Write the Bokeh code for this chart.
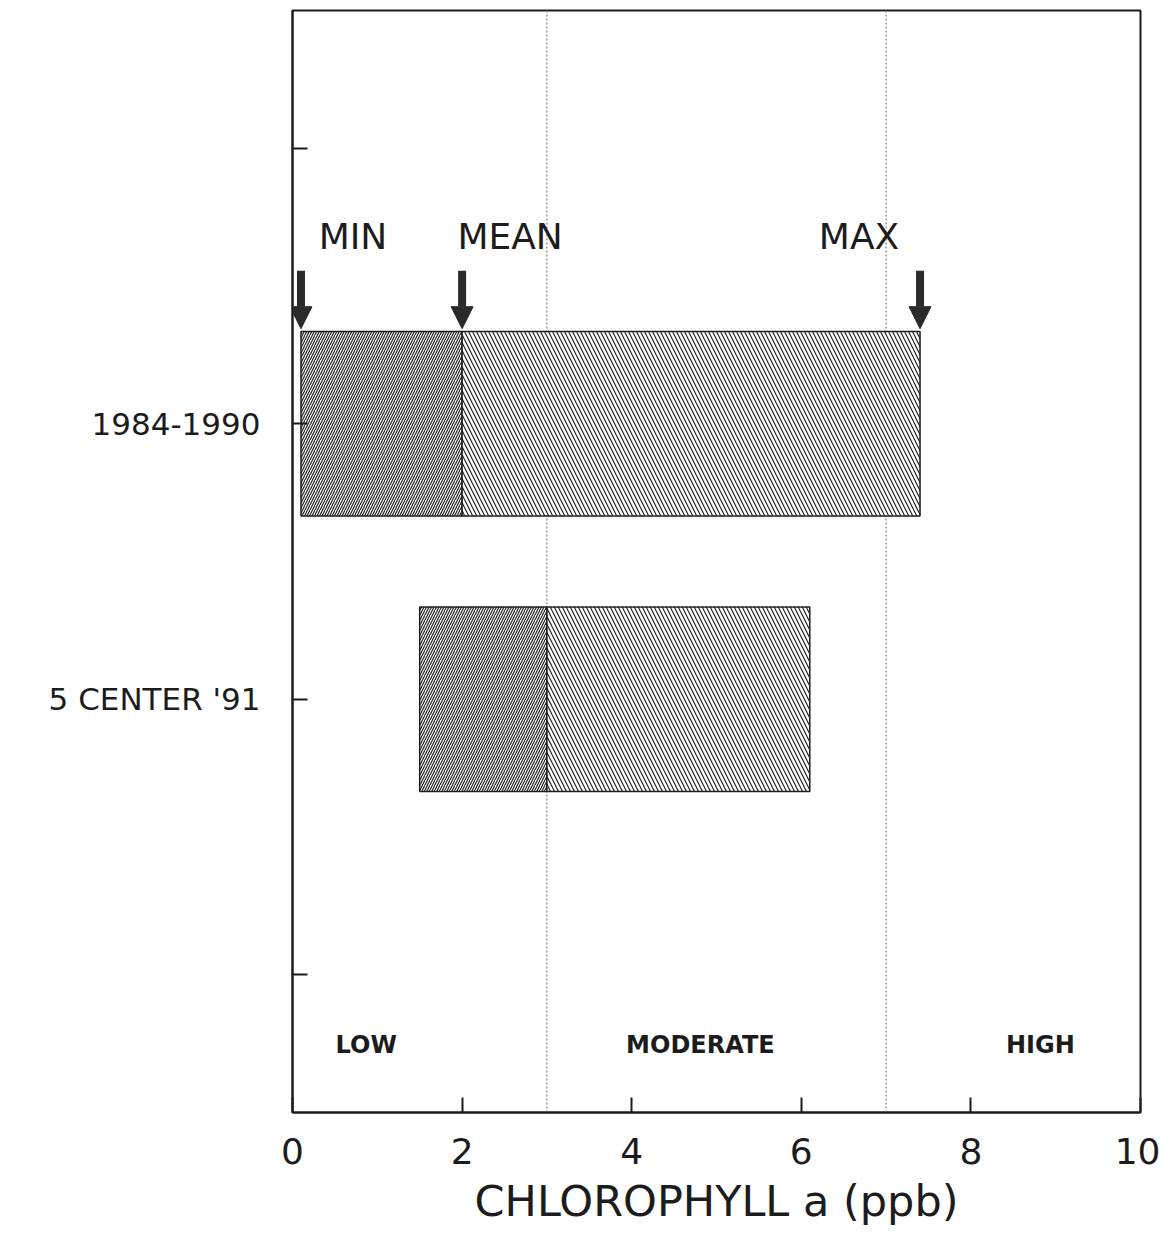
from bokeh.plotting import figure
from bokeh.models import Range1d, FixedTicker, Span, Arrow, NormalHead, ColumnDataSource
from bokeh.core.properties import value
from bokeh.embed import file_html
from bokeh.resources import INLINE

# ---- data ----
periods = ["1984-1990", "5 CENTER '91"]
period_y = [2.5, 1.5]
chl_min = [0.1, 1.5]
chl_mean = [2.0, 3.0]
chl_max = [7.4, 6.1]

x_ticks = [0, 2, 4, 6, 8, 10]
y_ticks = [0.5, 1.5, 2.5, 3.5]
y_tick_labels = ["", "5 CENTER '91", "1984-1990", ""]

zone_bounds = [3, 7]
zone_names = ["LOW", "MODERATE", "HIGH"]
zone_label_x = [0.87, 4.81, 8.82]

marker_names = ["MIN", "MEAN", "MAX"]

FONT = "DejaVu Sans"
INK = "#1c1c1c"

p = figure(width=1160, height=1240, output_backend="svg", toolbar_location=None,
           x_range=Range1d(0, 10), y_range=Range1d(0, 4),
           min_border_left=292, min_border_right=20, min_border_top=10, min_border_bottom=128)
p.grid.visible = False
p.outline_line_color = INK
p.outline_line_width = 2
p.background_fill_color = "white"
p.border_fill_color = "white"

# x axis
xa = p.xaxis[0]
xa.ticker = FixedTicker(ticks=x_ticks)
xa.major_tick_in = 15
xa.major_tick_out = 0
xa.minor_tick_in = 0
xa.minor_tick_out = 0
xa.axis_line_width = 2
xa.axis_line_color = INK
xa.major_tick_line_width = 2
xa.major_tick_line_color = INK
xa.major_label_text_font = FONT
xa.major_label_text_font_size = "36px"
xa.major_label_text_color = INK
xa.major_label_standoff = 25
xa.axis_label = "CHLOROPHYLL a (ppb)"
xa.axis_label_text_font = FONT
xa.axis_label_text_font_size = "43px"
xa.axis_label_text_font_style = "normal"
xa.axis_label_text_color = INK
xa.axis_label_standoff = 9

# y axis
ya = p.yaxis[0]
ya.ticker = FixedTicker(ticks=y_ticks)
ya.major_label_overrides = {t: l for t, l in zip(y_ticks, y_tick_labels)}
ya.major_tick_in = 15
ya.major_tick_out = 0
ya.minor_tick_in = 0
ya.minor_tick_out = 0
ya.axis_line_width = 2
ya.axis_line_color = INK
ya.major_tick_line_width = 2
ya.major_tick_line_color = INK
ya.major_label_text_font = FONT
ya.major_label_text_font_size = "31px"
ya.major_label_text_color = INK
ya.major_label_standoff = 32

# zone boundaries
for b in zone_bounds:
    p.add_layout(Span(location=b, dimension="height", line_color="#8a8a8a",
                      line_dash="2 2", line_width=1.3, level="underlay"))

# bars: min -> mean, mean -> max
src = ColumnDataSource(dict(y=period_y, lo=chl_min, mid=chl_mean, hi=chl_max))
p.hbar(y="y", left="lo", right="mid", height=0.67, source=src,
       fill_color="white", line_color=INK, line_width=1.5,
       hatch_pattern="right_diagonal_line", hatch_color="#222222",
       hatch_scale=5, hatch_weight=1.2)
p.hbar(y="y", left="mid", right="hi", height=0.67, source=src,
       fill_color="white", line_color=INK, line_width=1.5,
       hatch_pattern="left_diagonal_line", hatch_color="#222222",
       hatch_scale=8, hatch_weight=1.2)

# arrows for first period
top_bar = period_y[0] + 0.67 / 2
arrow_x = [chl_min[0], chl_mean[0], chl_max[0]]
for ax in arrow_x:
    p.add_layout(Arrow(x_start=ax, y_start=top_bar + 0.22, x_end=ax, y_end=top_bar + 0.01,
                       line_width=8, line_color="#2a2a2a",
                       end=NormalHead(size=22, fill_color="#2a2a2a", line_color="#2a2a2a", line_width=1)))

p.text(x=arrow_x, y=[top_bar + 0.345] * 3, text=marker_names, x_offset=[52, 48, -61],
       text_align="center", text_baseline="middle", text_font=value(FONT),
       text_font_size="36px", text_color=INK)

# zone labels
p.text(x=zone_label_x, y=[0.244] * 3, text=zone_names, text_align="center",
       text_baseline="middle", text_font=value(FONT), text_font_size="24px",
       text_font_style="bold", text_color=INK)

open("out.html", "w").write(file_html(p, INLINE))
